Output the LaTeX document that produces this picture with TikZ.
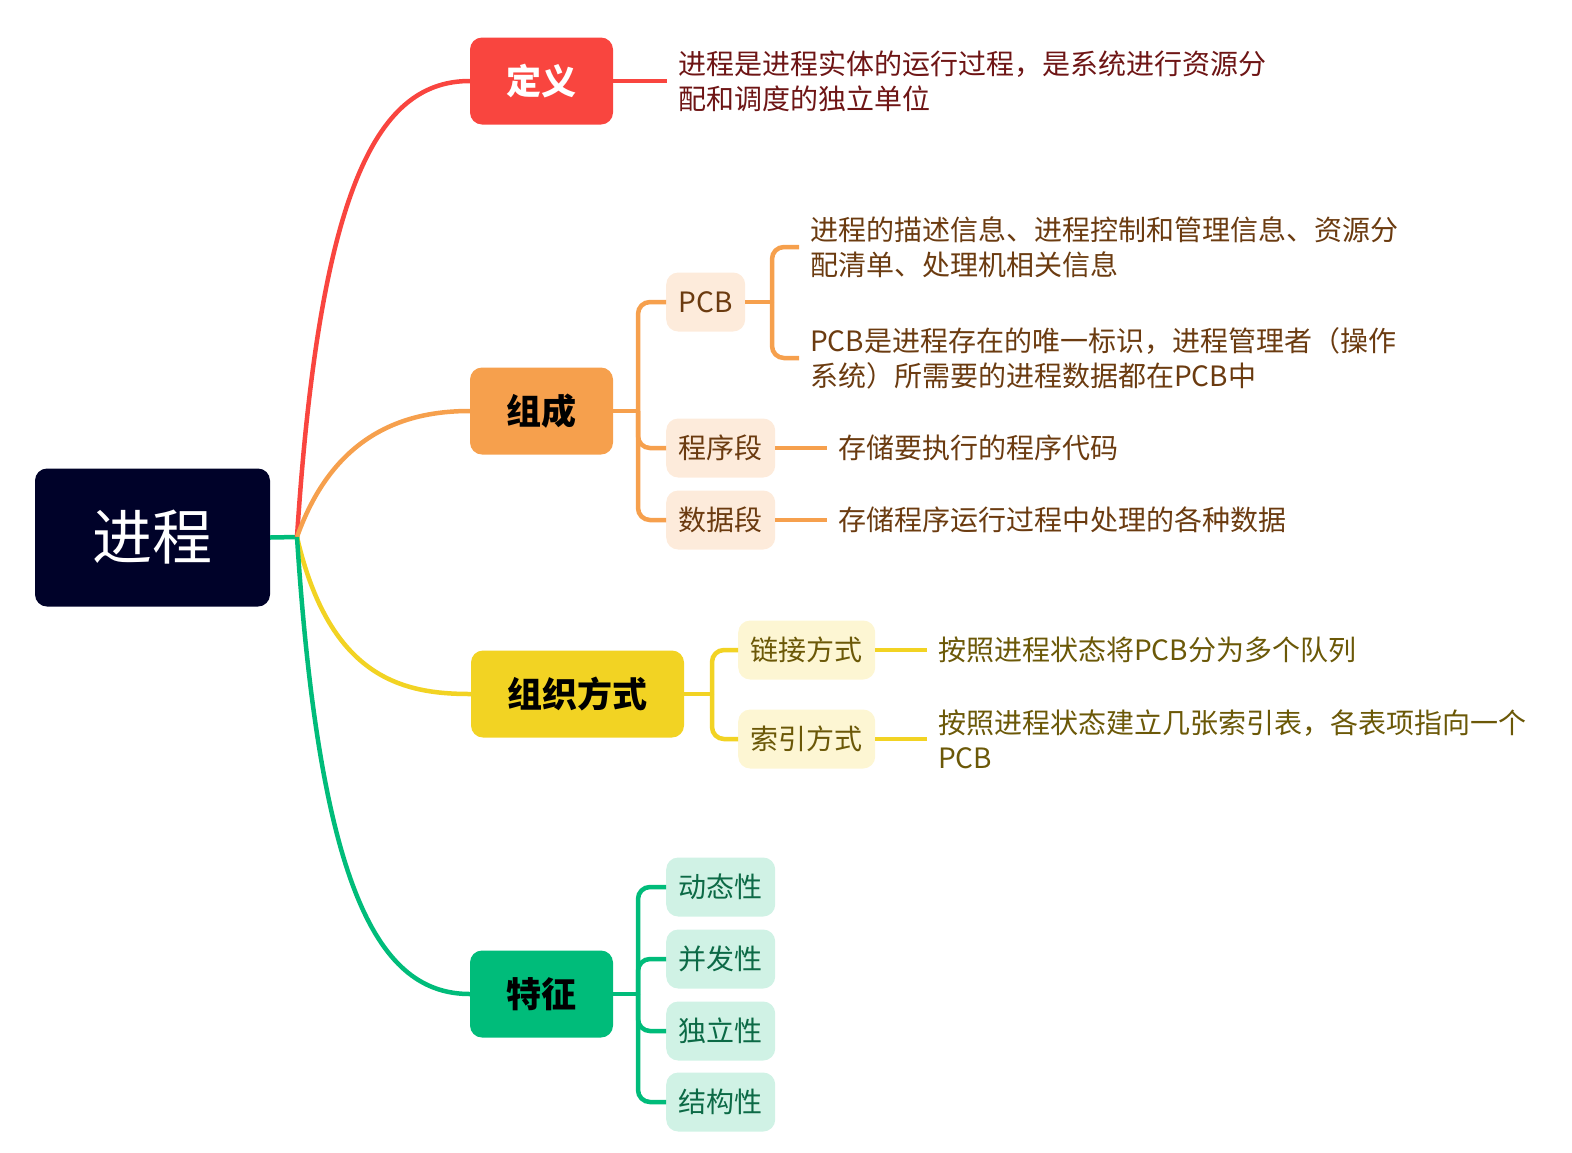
\documentclass[tikz,border=0pt]{standalone}
\usepackage{fontspec}
\setmainfont{Noto Sans CJK SC}
\definecolor{cRoot}{HTML}{000229}
\definecolor{cRed}{HTML}{F9453F}
\definecolor{cOrange}{HTML}{F6A04D}
\definecolor{cYellow}{HTML}{F2D323}
\definecolor{cGreen}{HTML}{00BC7A}
\definecolor{lOrange}{HTML}{FDEBDB}
\definecolor{lYellow}{HTML}{FDF6D3}
\definecolor{lGreen}{HTML}{D0F2E5}
\definecolor{tRed}{HTML}{6E1515}
\definecolor{tOrange}{HTML}{6B3B10}
\definecolor{tYellow}{HTML}{6B5807}
\definecolor{tGreen}{HTML}{0C6A46}
\begin{document}
\begin{tikzpicture}[x=1pt,y=-1pt,
  conn/.style={line width=4.5pt},
  rootbox/.style={fill=cRoot, rounded corners=12pt, minimum width=235pt, minimum height=138pt, text=white, font=\fontsize{60}{66}\selectfont},
  mainbox/.style={rounded corners=12pt, minimum height=87pt, inner xsep=36.5pt, font=\fontsize{35}{40}\selectfont\bfseries},
  subbox/.style={rounded corners=12pt, minimum height=59pt, inner xsep=12.5pt, anchor=west, font=\fontsize{28}{35}\selectfont},
  leaf/.style={anchor=west, inner xsep=11pt, align=left, font=\fontsize{28}{35}\selectfont}
]
\useasboundingbox (0,0) rectangle (1572,1152);

% root
\node[rootbox] (root) at (152.5,537.5) {进程};
\coordinate (hub) at (297,537);

% main nodes
\node[mainbox, fill=cRed, text=white] (def) at (541.5,81) {定义};
\node[mainbox, fill=cOrange, text=black] (zc) at (541.5,411) {组成};
\node[mainbox, fill=cYellow, text=black] (zz) at (577.5,694) {组织方式};
\node[mainbox, fill=cGreen, text=black] (tz) at (541.5,994) {特征};

% main connectors
\draw[conn, cGreen] (root.east) -- (hub);
\draw[conn, cRed] (hub) .. controls (320,180) and (380,81) .. (def.west);
\draw[conn, cOrange] (hub) .. controls (335,430) and (410,411) .. (zc.west);
\draw[conn, cYellow] (hub) .. controls (330,680) and (405,694) .. (zz.west);
\draw[conn, cGreen] (hub) .. controls (320,894) and (380,994) .. (tz.west);

% definition leaf
\node[leaf, text=tRed] (ldef) at (667,81) {进程是进程实体的运行过程，是系统进行资源分\\配和调度的独立单位};
\draw[conn, cRed] (def.east) -- (ldef.west);

% composition
\node[subbox, fill=lOrange, text=tOrange] (pcb) at (666,302) {PCB};
\node[subbox, fill=lOrange, text=tOrange] (cxd) at (666,448) {程序段};
\node[subbox, fill=lOrange, text=tOrange] (sjd) at (666,520) {数据段};
\coordinate (zj) at (638,411);
\draw[conn, cOrange] (zc.east) -- (zj);
\draw[conn, cOrange, rounded corners=12pt] (zj) |- (pcb.west);
\draw[conn, cOrange, rounded corners=12pt] (zj) |- (cxd.west);
\draw[conn, cOrange, rounded corners=12pt] (zj) |- (sjd.west);

\node[leaf, text=tOrange] (lp1) at (799,247) {进程的描述信息、进程控制和管理信息、资源分\\配清单、处理机相关信息};
\node[leaf, text=tOrange] (lp2) at (799,358) {PCB是进程存在的唯一标识，进程管理者（操作\\系统）所需要的进程数据都在PCB中};
\coordinate (pj) at (772,302);
\draw[conn, cOrange] (pcb.east) -- (pj);
\draw[conn, cOrange, rounded corners=12pt] (pj) |- (lp1.west);
\draw[conn, cOrange, rounded corners=12pt] (pj) |- (lp2.west);

\node[leaf, text=tOrange] (lcx) at (827,448) {存储要执行的程序代码};
\node[leaf, text=tOrange] (lsj) at (827,520) {存储程序运行过程中处理的各种数据};
\draw[conn, cOrange] (cxd.east) -- (lcx.west);
\draw[conn, cOrange] (sjd.east) -- (lsj.west);

% organisation
\node[subbox, fill=lYellow, text=tYellow] (ljfs) at (738,650) {链接方式};
\node[subbox, fill=lYellow, text=tYellow] (syfs) at (738,739) {索引方式};
\coordinate (yj) at (712,694);
\draw[conn, cYellow] (zz.east) -- (yj);
\draw[conn, cYellow, rounded corners=12pt] (yj) |- (ljfs.west);
\draw[conn, cYellow, rounded corners=12pt] (yj) |- (syfs.west);
\node[leaf, text=tYellow] (llj) at (927,650) {按照进程状态将PCB分为多个队列};
\node[leaf, text=tYellow] (lsy) at (927,739) {按照进程状态建立几张索引表，各表项指向一个\\PCB};
\draw[conn, cYellow] (ljfs.east) -- (llj.west);
\draw[conn, cYellow] (syfs.east) -- (lsy.west);

% features
\node[subbox, fill=lGreen, text=tGreen] (dtx) at (666,887) {动态性};
\node[subbox, fill=lGreen, text=tGreen] (bfx) at (666,959) {并发性};
\node[subbox, fill=lGreen, text=tGreen] (dlx) at (666,1031) {独立性};
\node[subbox, fill=lGreen, text=tGreen] (jgx) at (666,1102) {结构性};
\coordinate (gj) at (638,994);
\draw[conn, cGreen] (tz.east) -- (gj);
\draw[conn, cGreen, rounded corners=12pt] (gj) |- (dtx.west);
\draw[conn, cGreen, rounded corners=12pt] (gj) |- (bfx.west);
\draw[conn, cGreen, rounded corners=12pt] (gj) |- (dlx.west);
\draw[conn, cGreen, rounded corners=12pt] (gj) |- (jgx.west);
\end{tikzpicture}
\end{document}
